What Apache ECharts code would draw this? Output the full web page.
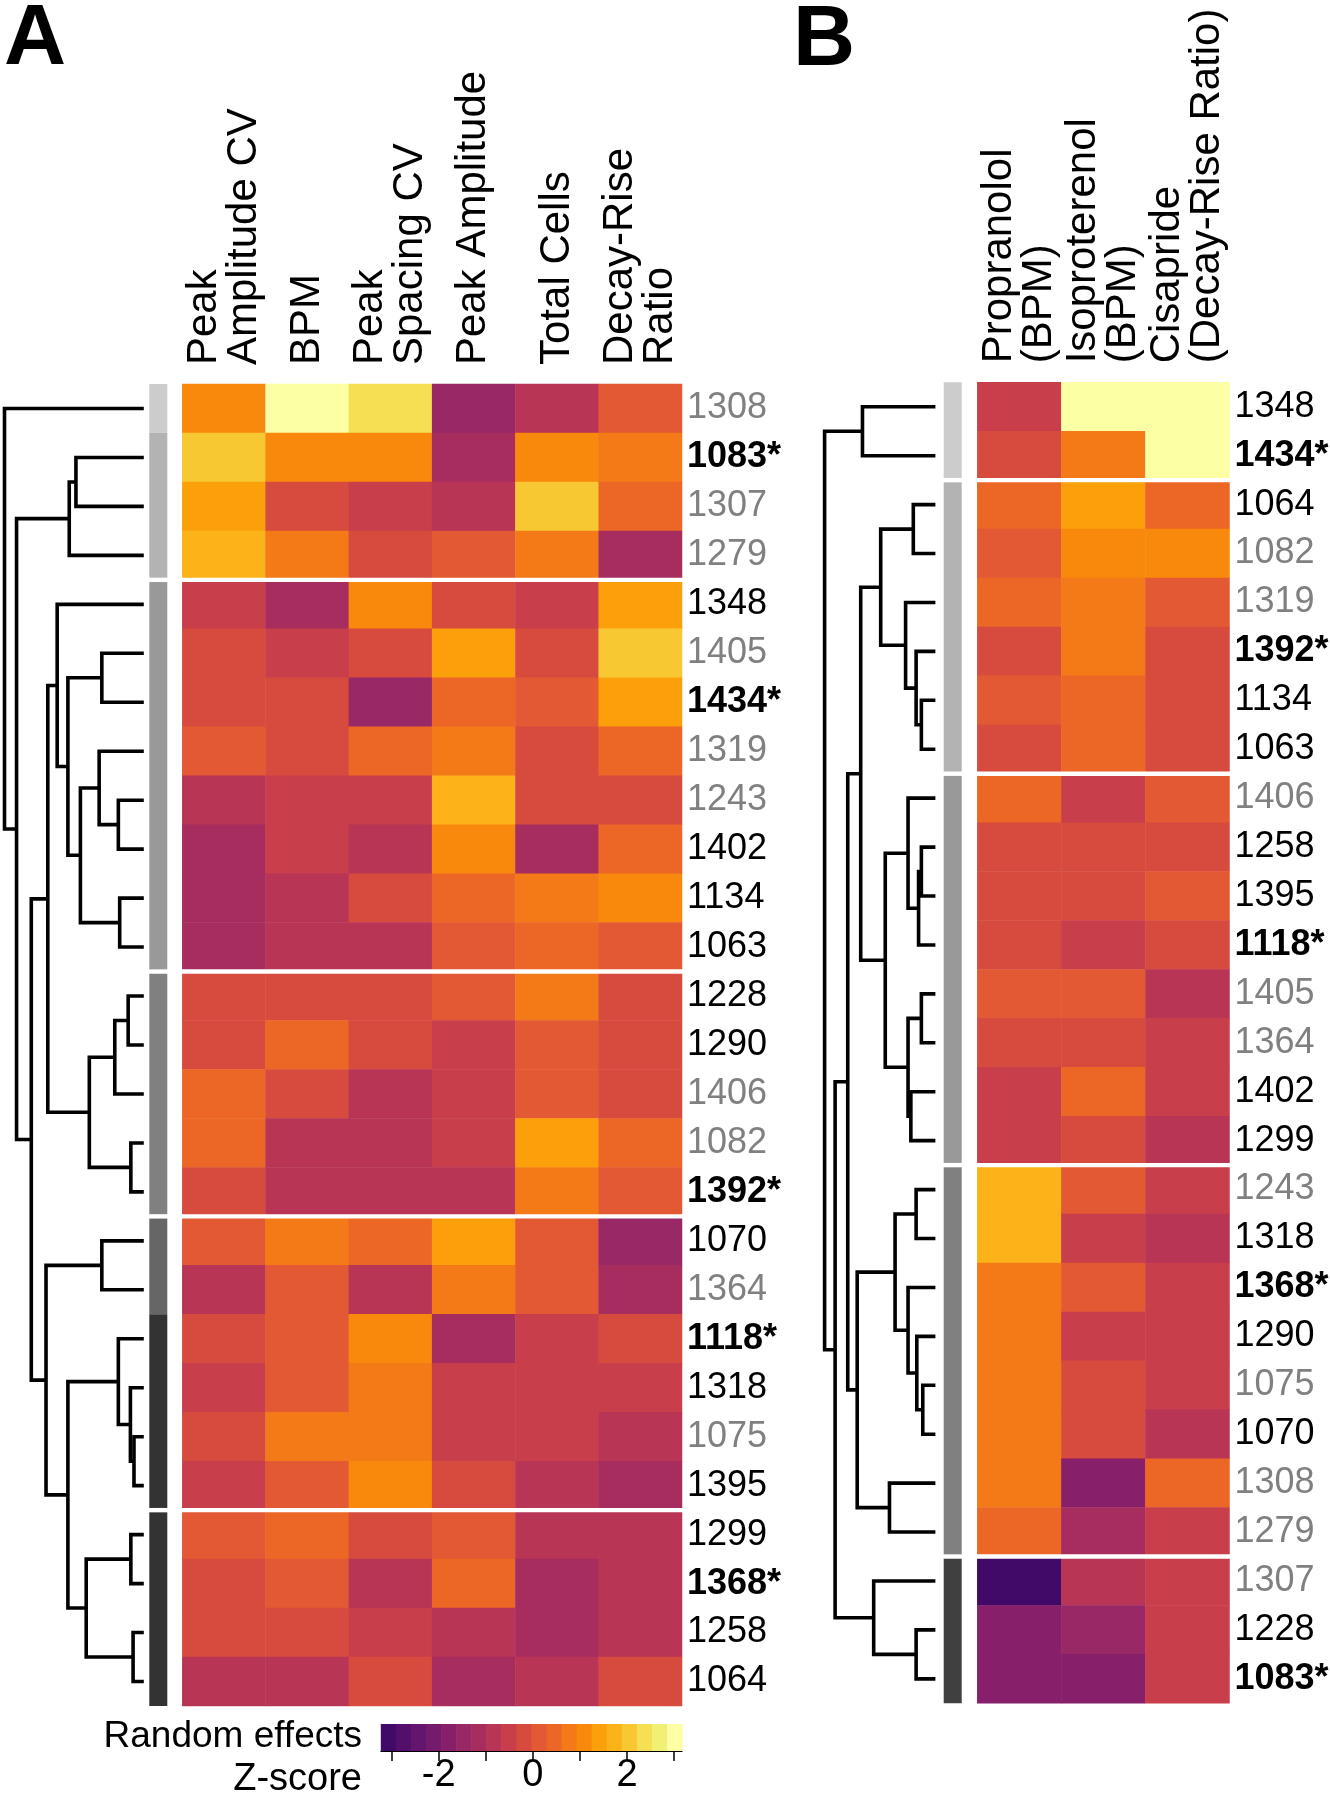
<!DOCTYPE html>
<html><head><meta charset="utf-8">
<script src="https://cdn.jsdelivr.net/npm/echarts@6/dist/echarts.min.js"></script>
<style>html,body{margin:0;padding:0;background:#fff}#c{width:1330px;height:1800px}</style>
</head><body><div id="c"></div>
<script>
// ---------------- DATA ----------------
const colsA = ['Peak\nAmplitude CV', 'BPM', 'Peak\nSpacing CV', 'Peak Amplitude', 'Total Cells', 'Decay-Rise\nRatio'];
const rowsA = ['1308','1083*','1307','1279','1348','1405','1434*','1319','1243','1402','1134','1063','1228','1290','1406','1082','1392*','1070','1364','1118*','1318','1075','1395','1299','1368*','1258','1064'];
const zPeakAmplitudeCV = [1.1,2.1,1.4,1.7,-0.5,-0.2,-0.2,0.1,-0.8,-1.2,-1.2,-1.2,-0.2,-0.2,0.5,0.5,-0.2,0.1,-0.8,-0.2,-0.5,-0.2,-0.5,0.1,-0.2,-0.2,-0.8];
const zBPM = [3.0,1.1,-0.2,0.8,-1.2,-0.5,-0.2,-0.2,-0.5,-0.5,-0.8,-0.8,-0.2,0.5,-0.2,-0.8,-0.8,0.8,0.1,0.1,0.1,0.8,0.1,0.5,0.1,-0.2,-0.8];
const zPeakSpacingCV = [2.4,1.1,-0.5,-0.2,1.1,-0.2,-1.5,0.5,-0.5,-0.8,-0.2,-0.8,-0.2,-0.2,-0.8,-0.8,-0.8,0.5,-0.8,1.1,0.8,0.8,1.1,-0.2,-0.8,-0.5,-0.2];
const zPeakAmplitude = [-1.5,-1.2,-0.8,0.1,-0.2,1.4,0.5,0.8,1.7,1.1,0.5,0.1,0.1,-0.5,-0.5,-0.5,-0.8,1.4,0.8,-1.2,-0.5,-0.5,-0.2,0.1,0.5,-0.8,-1.2];
const zTotalCells = [-0.8,1.1,2.1,0.8,-0.5,-0.2,0.1,-0.2,-0.2,-1.2,0.8,0.5,0.8,0.1,0.1,1.4,0.8,0.1,0.1,-0.5,-0.5,-0.5,-0.8,-0.8,-1.2,-1.2,-0.8];
const zDecayRise = [0.1,0.8,0.5,-1.2,1.4,2.1,1.4,0.5,-0.2,0.5,1.1,0.1,-0.2,-0.2,-0.2,0.5,0.1,-1.5,-1.2,-0.2,-0.5,-0.8,-1.2,-0.8,-0.8,-0.8,-0.2];

const colsB = ['Propranolol\n(BPM)', 'Isoproterenol\n(BPM)', 'Cisapride\n(Decay-Rise Ratio)'];
const rowsB = ['1348','1434*','1064','1082','1319','1392*','1134','1063','1406','1258','1395','1118*','1405','1364','1402','1299','1243','1318','1368*','1290','1075','1070','1308','1279','1307','1228','1083*'];
const zPropranolol = [-0.5,-0.2,0.5,0.1,0.5,-0.2,0.1,-0.2,0.5,-0.2,-0.2,-0.2,0.1,-0.2,-0.5,-0.5,1.7,1.7,0.8,0.8,0.8,0.8,0.8,0.5,-3.1,-1.8,-1.8];
const zIsoproterenol = [3.0,0.8,1.4,1.1,0.8,0.8,0.5,0.5,-0.5,-0.2,-0.2,-0.5,0.1,-0.2,0.5,-0.2,0.1,-0.5,0.1,-0.5,-0.2,-0.2,-1.8,-1.2,-0.8,-1.5,-1.8];
const zCisapride = [3.0,3.0,0.5,1.1,0.1,-0.2,-0.2,-0.2,0.1,-0.2,0.1,-0.2,-0.8,-0.5,-0.5,-0.8,-0.5,-0.8,-0.5,-0.5,-0.5,-0.8,0.5,-0.5,-0.5,-0.5,-0.5];

const greyLabels = ['1308','1307','1279','1405','1319','1243','1406','1082','1364','1075'];
const boldLabels = ['1083*','1434*','1392*','1118*','1368*'];

// cluster membership (annotation bar) and block boundaries (white gaps)
const clusterA = [0,1,1,1,2,2,2,2,2,2,2,2,3,3,3,3,3,4,4,5,5,5,5,5,5,5,5];
const clusterB = [0,0,1,1,1,1,1,1,2,2,2,2,2,2,2,2,3,3,3,3,3,3,3,3,4,4,4];
const gapsA = [4,12,17,23];
const gapsB = [2,8,16,24];

// dendrograms (hclust-style merges: negative = leaf row, positive = earlier merge), heights
const mergesA = [[-2,-3,152],[1,-4,167],[-6,-7,94],[-9,-10,57],[-8,4,100],[-11,-12,54],[5,6,142],[3,7,170],[-5,8,194],
  [-13,-14,35],[10,-15,65],[-16,-17,29],[11,12,122],[9,13,215],[-18,-19,94],[-22,-23,22],[-21,16,30],[-20,17,57],
  [-24,-25,29],[-26,-27,24],[19,20,129],[18,21,170],[15,22,219],[14,23,252],[2,24,285],[-1,25,312]];
const mergesB = [[-1,-2,208],[-3,-4,63],[-7,-8,40],[-6,3,55],[-5,4,85],[2,5,156],[-10,-11,40],[7,-12,48],[-9,8,78],
  [-13,-14,40],[-15,-16,70],[10,11,78],[9,12,143],[6,13,213],[-17,-18,55],[-21,-22,36],[-20,16,53],[-19,17,78],
  [15,18,115],[-23,-24,131],[19,20,223],[14,21,250],[-26,-27,55],[-25,23,176],[22,24,286],[1,25,316]];

// colour scale (Z-score)
const zMin = -3.23, zMax = 3.17;
const legendTicks = [-3,-2,-1,0,1,2,3];
const legendLabels = [-2,0,2];
const bandColors = ['#420a68','#540f6d','#64156e','#751b6d','#871f6a','#982866','#a72d5f','#b83556','#c83e4b','#d74b3f',
  '#e35933','#ec6726','#f47a18','#f8890c','#fba00a','#fcb31a','#f7c832','#f5df52','#f0f074','#fcffa4'];
const clusterGreys = ['#cccccc','#b3b3b3','#999999','#808080','#666666','#333333'];
const clusterGreysB = ['#cccccc','#b3b3b3','#999999','#808080','#404040'];

// ---------------- BUILD ----------------
const FONT = '"Liberation Sans", Arial, Helvetica, sans-serif';
function heatData(cols){ const d=[]; cols.forEach((col,c)=>col.forEach((v,r)=>d.push([c,r,v]))); return d; }
const heatA = heatData([zPeakAmplitudeCV,zBPM,zPeakSpacingCV,zPeakAmplitude,zTotalCells,zDecayRise]);
const heatB = heatData([zPropranolol,zIsoproterenol,zCisapride]);

const nb = bandColors.length, bw = (zMax - zMin)/nb;
const pieces = bandColors.map((c,i)=>{
  const p = {color:c};
  if (i>0) p.gte = zMin + i*bw;
  if (i<nb-1) p.lt = zMin + (i+1)*bw;
  return p;
});
const legendBands = bandColors.map((c,i)=>[zMin+i*bw, zMin+(i+1)*bw, zMin+(i+0.5)*bw]);

function dendroSegments(merges){
  const pos=[], segs=[];
  const get = ref => ref<0 ? {h:0, y:-ref-1+0.5} : pos[ref-1];
  merges.forEach(([a,b,h])=>{
    const A=get(a), B=get(b);
    pos.push({h, y:(A.y+B.y)/2});
    segs.push([A.h, A.y, h, B.y, B.h]);
  });
  return segs;
}
function runs(cluster){
  const out=[]; let s=0;
  for(let i=1;i<=cluster.length;i++){
    if(i===cluster.length || cluster[i]!==cluster[s]){ out.push([0,s,i-1,cluster[s]]); s=i; }
  }
  return out;
}

function labelFmt(v){
  if (boldLabels.includes(v)) return '{b|'+v+'}';
  if (greyLabels.includes(v)) return '{g|'+v+'}';
  return '{k|'+v+'}';
}
const rich = {
  b:{color:'#000', fontWeight:'bold', fontSize:36, fontFamily:FONT},
  g:{color:'#808080', fontSize:36, fontFamily:FONT},
  k:{color:'#000', fontSize:36, fontFamily:FONT}
};

const GAP = 4.4;
function gapRender(ncols){
  return function(params, api){
    const b = api.value(0);
    const c0 = api.coord([0, b]);
    const sz = api.size([1, 1]);
    const c1 = api.coord([ncols-1, b]);
    const y = c0[1] - sz[1]/2;
    return {type:'rect', shape:{x:c0[0]-sz[0]/2-1, y:y-GAP/2, width:(c1[0]-c0[0])+sz[0]+2, height:GAP}, style:{fill:'#fff'}};
  };
}
function barRender(colors){
  return function(params, api){
    const a = api.coord([0, api.value(1)]);
    const b = api.coord([0, api.value(2)]);
    const sz = api.size([1,1]);
    return {type:'rect', shape:{x:a[0]-sz[0]/2, y:a[1]-sz[1]/2, width:sz[0], height:(b[1]-a[1])+sz[1]}, style:{fill:colors[api.value(3)]}};
  };
}
function dendroRender(params, api){
  const h0=api.value(0), y0=api.value(1), h=api.value(2), y1=api.value(3), h1=api.value(4);
  return {type:'polyline', shape:{points:[api.coord([h0,y0]), api.coord([h,y0]), api.coord([h,y1]), api.coord([h1,y1])]},
          style:{stroke:'#000', lineWidth:3.6, fill:null, lineJoin:'miter'}};
}
function legendRender(params, api){
  const p0 = api.coord([api.value(0), 1]);
  const p1 = api.coord([api.value(1), 0]);
  return {type:'rect', shape:{x:p0[0], y:p0[1], width:p1[0]-p0[0]+0.6, height:p1[1]-p0[1]}, style:{fill:api.visual('color')}};
}

const hidden = {show:false};
const gridBase = {outerBoundsMode:'none', containLabel:false};
const grids = [
  Object.assign({left:182.3, top:384, width:499.7, height:1322}, gridBase),   // 0 A heat
  Object.assign({left:149.3, top:384, width:18, height:1322}, gridBase),      // 1 A bar
  Object.assign({left:4.5, top:384, width:139.3, height:1322}, gridBase),     // 2 A dendro
  Object.assign({left:977.3, top:382.3, width:252.2, height:1321}, gridBase), // 3 B heat
  Object.assign({left:943.7, top:382.3, width:18, height:1321}, gridBase),    // 4 B bar
  Object.assign({left:824.6, top:382.3, width:110.8, height:1321}, gridBase), // 5 B dendro
  Object.assign({left:380.8, top:1724, width:301.3, height:27}, gridBase)     // 6 legend
];
function headerAxis(grid, data){
  return {gridIndex:grid, type:'category', data, position:'top', axisLine:hidden, axisTick:hidden, splitLine:hidden,
    axisLabel:{interval:0, rotate:-90, margin:19, fontSize:42, lineHeight:40, color:'#000', fontFamily:FONT}};
}
function rowAxis(grid, data, show){
  return {gridIndex:grid, type:'category', data, inverse:true, position:'right', axisLine:hidden, axisTick:hidden, splitLine:hidden,
    axisLabel: show ? {interval:0, margin:5, formatter:labelFmt, rich} : hidden};
}
const xAxes = [
  headerAxis(0, colsA),
  {gridIndex:1, type:'category', data:['bar'], show:false},
  {gridIndex:2, type:'value', min:0, max:mergesA[mergesA.length-1][2], inverse:true, show:false},
  headerAxis(3, colsB),
  {gridIndex:4, type:'category', data:['bar'], show:false},
  {gridIndex:5, type:'value', min:0, max:mergesB[mergesB.length-1][2], inverse:true, show:false},
  {gridIndex:6, type:'value', min:zMin, max:zMax, position:'bottom', splitLine:hidden,
    axisLine:{show:true, lineStyle:{color:'#000', width:1}},
    axisTick:{show:true, customValues:legendTicks, length:10, lineStyle:{color:'#000', width:1.5}},
    axisLabel:{customValues:legendLabels, fontSize:38, color:'#000', margin:6, fontFamily:FONT}}
];
const yAxes = [
  rowAxis(0, rowsA, true),
  rowAxis(1, rowsA, false),
  {gridIndex:2, type:'value', min:0, max:rowsA.length, inverse:true, show:false},
  rowAxis(3, rowsB, true),
  rowAxis(4, rowsB, false),
  {gridIndex:5, type:'value', min:0, max:rowsB.length, inverse:true, show:false},
  {gridIndex:6, type:'value', min:0, max:1, show:false}
];

const series = [
  {type:'heatmap', xAxisIndex:0, yAxisIndex:0, data:heatA, itemStyle:{borderWidth:0}, emphasis:{disabled:true}, z:2},
  {type:'heatmap', xAxisIndex:3, yAxisIndex:3, data:heatB, itemStyle:{borderWidth:0}, emphasis:{disabled:true}, z:2},
  {type:'custom', xAxisIndex:6, yAxisIndex:6, data:legendBands, renderItem:legendRender, z:2},
  {type:'custom', xAxisIndex:1, yAxisIndex:1, data:runs(clusterA), renderItem:barRender(clusterGreys), z:2},
  {type:'custom', xAxisIndex:4, yAxisIndex:4, data:runs(clusterB), renderItem:barRender(clusterGreysB), z:2},
  {type:'custom', xAxisIndex:0, yAxisIndex:0, data:gapsA.map(g=>[g]), renderItem:gapRender(colsA.length), z:5},
  {type:'custom', xAxisIndex:1, yAxisIndex:1, data:gapsA.map(g=>[g]), renderItem:gapRender(1), z:5},
  {type:'custom', xAxisIndex:3, yAxisIndex:3, data:gapsB.map(g=>[g]), renderItem:gapRender(colsB.length), z:5},
  {type:'custom', xAxisIndex:4, yAxisIndex:4, data:gapsB.map(g=>[g]), renderItem:gapRender(1), z:5},
  {type:'custom', xAxisIndex:2, yAxisIndex:2, data:dendroSegments(mergesA), renderItem:dendroRender, z:3},
  {type:'custom', xAxisIndex:5, yAxisIndex:5, data:dendroSegments(mergesB), renderItem:dendroRender, z:3}
];

const chart = echarts.init(document.getElementById('c'), null, {renderer:'canvas'});
chart.setOption({
  animation:false,
  backgroundColor:'#fff',
  textStyle:{fontFamily:FONT},
  grid:grids, xAxis:xAxes, yAxis:yAxes,
  visualMap:{type:'piecewise', show:false, dimension:2, seriesIndex:[0,1,2], pieces},
  graphic:[
    {type:'text', x:4, y:40, style:{text:'A', fill:'#000', font:'bold 86px '+FONT, verticalAlign:'middle'}},
    {type:'text', x:793, y:41, style:{text:'B', fill:'#000', font:'bold 86px '+FONT, verticalAlign:'middle'}},
    {type:'text', x:362, y:1737, style:{text:'Random effects', fontSize:37, fill:'#000', fontFamily:FONT, align:'right', verticalAlign:'middle'}},
    {type:'text', x:362, y:1780, style:{text:'Z-score', fontSize:38, fill:'#000', fontFamily:FONT, align:'right', verticalAlign:'middle'}}
  ],
  series
});
</script></body></html>
